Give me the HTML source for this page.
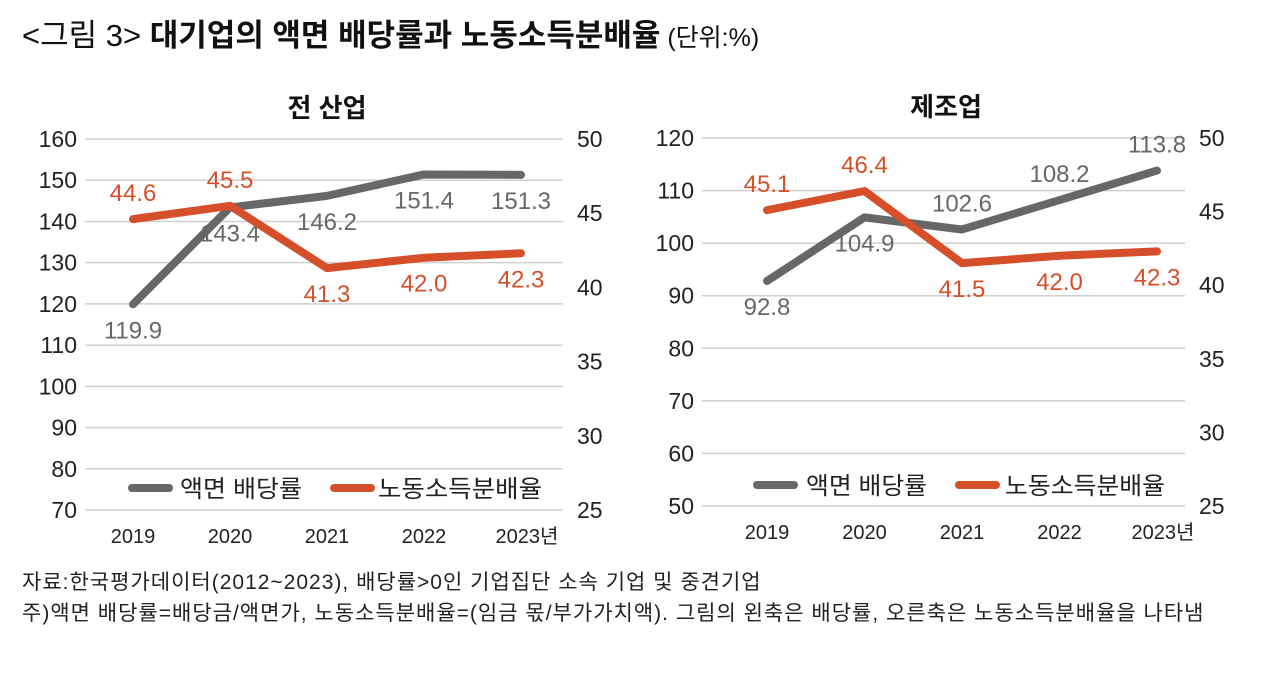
<!DOCTYPE html>
<html><head><meta charset="utf-8">
<style>
body{margin:0;background:#fff;width:1284px;height:673px;overflow:hidden;font-family:"Liberation Sans","Noto Sans CJK KR",sans-serif;}
svg text{font-family:"Liberation Sans Narrow","Liberation Sans","Noto Sans CJK KR",sans-serif;}
</style></head><body>
<svg width="1284" height="673" xmlns="http://www.w3.org/2000/svg" id="root">
<text x="22" y="46" font-size="31" fill="#111" style='font-family:"Liberation Sans","Noto Sans CJK KR",sans-serif'><tspan>&lt;그림 3&gt; </tspan><tspan font-weight="bold">대기업의 액면 배당률과 노동소득분배율</tspan><tspan font-size="25"> (단위:%)</tspan></text>
<text x="22" y="589" font-size="21" letter-spacing="1" fill="#222" style='font-family:"Liberation Sans","Noto Sans CJK KR",sans-serif'>자료:한국평가데이터(2012~2023), 배당률&gt;0인 기업집단 소속 기업 및 중견기업</text>
<text x="22" y="620" font-size="21" letter-spacing="1" fill="#222" style='font-family:"Liberation Sans","Noto Sans CJK KR",sans-serif'>주)액면 배당률=배당금/액면가, 노동소득분배율=(임금 몫/부가가치액). 그림의 왼축은 배당률, 오른축은 노동소득분배율을 나타냄</text>
<g id="c1"></g><g id="c2"></g>
</svg>
<script>
const years=['2019','2020','2021','2022','2023년'];
const allDividend=[119.9,143.4,146.2,151.4,151.3];
const allLabor=[44.6,45.5,41.3,42.0,42.3];
const mfgDividend=[92.8,104.9,102.6,108.2,113.8];
const mfgLabor=[45.1,46.4,41.5,42.0,42.3];
const allLeftTicks=[70,80,90,100,110,120,130,140,150,160];
const allRightTicks=[25,30,35,40,45,50];
const mfgLeftTicks=[50,60,70,80,90,100,110,120];
const mfgRightTicks=[25,30,35,40,45,50];
const allDivPos=['b','b','b','b','b'];
const allLabPos=['a','a','b','b','b'];
const mfgDivPos=['b','b','a','a','a'];
const mfgLabPos=['a','a','b','b','b'];
const NS='http://www.w3.org/2000/svg';
function mk(p,t,a,txt){const e=document.createElementNS(NS,t);for(const k in a)e.setAttribute(k,a[k]);if(txt!==undefined)e.textContent=txt;p.appendChild(e);return e;}
function chart(g,o){
  const yL=v=>o.top+(o.lmax-v)/(o.lmax-o.lmin)*(o.bot-o.top);
  const yR=v=>o.top+(o.rmax-v)/(o.rmax-o.rmin)*(o.bot-o.top);
  const x=i=>o.x0+i*o.dx;
  const t=mk(g,'text',{x:o.tx,y:o.top-22,'font-size':26,'font-weight':'bold','text-anchor':'middle',fill:'#111'},o.title);
  
  
  o.lt.forEach(v=>{
    const l=mk(g,'line',{x1:o.gx0,x2:o.gx1,y1:yL(v),y2:yL(v),stroke:'#d0d0d0','stroke-width':1.5});
    
    
    const tt=mk(g,'text',{x:o.gx0-8,y:yL(v)+8,'font-size':23,'text-anchor':'end',fill:'#222'},v);
    
    
  });
  o.rt.forEach(v=>{
    const tt=mk(g,'text',{x:o.gx1+14,y:yR(v)+8,'font-size':23,fill:'#222'},v);
    
    
  });
  years.forEach((y,i)=>{
    const tt=mk(g,'text',{x:x(i)+(i==4?6:0),y:o.bot+33,'font-size':20,'text-anchor':'middle',fill:'#222'},y);
    
    
  });
  const series=[[o.div,yL,'#676767',o.dp,'dividend-line'],[o.lab,yR,'#d5502a',o.lp,'labor-share-line']];
  series.forEach(([d,f,c,pos,nm])=>{
    const p=mk(g,'polyline',{points:d.map((v,i)=>x(i)+','+f(v)).join(' '),fill:'none',stroke:c,'stroke-width':8,'stroke-linejoin':'round','stroke-linecap':'round'});
    
    
    d.forEach((v,i)=>{
      const yy=f(v)+(pos[i]=='a'?-18:34);
      const tt=mk(g,'text',{x:x(i),y:yy,'font-size':24,'text-anchor':'middle',fill:c},v.toFixed(1));
      
      
    });
  });
  const L=o.leg;
  [[L[0],L[1],L[5],'#676767','액면 배당률'],[L[2],L[3],L[6],'#d5502a','노동소득분배율']].forEach(([lx,tx,tl,c,txt])=>{
    const l=mk(g,'line',{x1:lx+4,x2:lx+41,y1:L[4],y2:L[4],stroke:c,'stroke-width':8,'stroke-linecap':'round'});
    
    
    const tt=mk(g,'text',{x:tx,y:L[4]+9,'font-size':24,textLength:tl,lengthAdjust:'spacingAndGlyphs',fill:'#222',style:'font-family:"Liberation Sans","Noto Sans CJK KR",sans-serif'},txt);
    
    
  });
}
chart(document.getElementById('c1'),{title:'전 산업',tx:327,top:139,bot:510,lmin:70,lmax:160,rmin:25,rmax:50,gx0:85,gx1:563,x0:133,dx:97,lt:allLeftTicks,rt:allRightTicks,div:allDividend,lab:allLabor,dp:allDivPos,lp:allLabPos,leg:[128,180,330,378,488,122,164]});
chart(document.getElementById('c2'),{title:'제조업',tx:946,top:138,bot:506,lmin:50,lmax:120,rmin:25,rmax:50,gx0:702,gx1:1185,x0:767,dx:97.5,lt:mfgLeftTicks,rt:mfgRightTicks,div:mfgDividend,lab:mfgLabor,dp:mfgDivPos,lp:mfgLabPos,leg:[753,806,955,1005,485,121,160]});
</script>
</body></html>
